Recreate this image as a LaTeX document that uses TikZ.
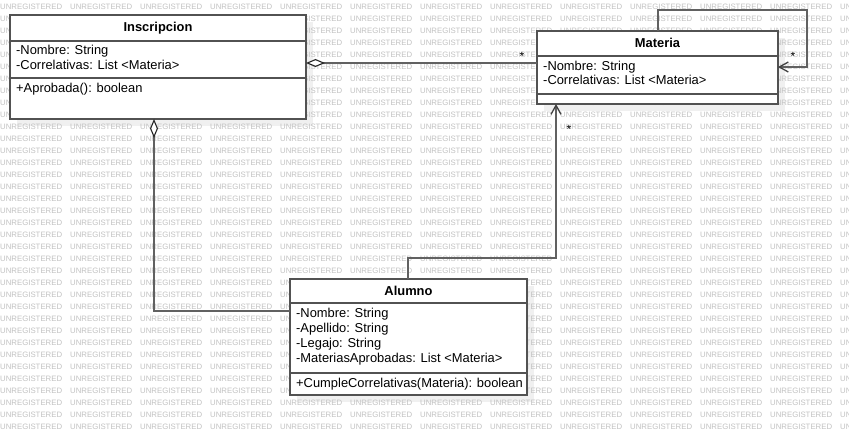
\documentclass[tikz,border=0pt]{standalone}
\usepackage{fontspec}
\setmainfont{Liberation Sans}
\usetikzlibrary{arrows.meta}
\pgfdeclarelayer{shadowlayer}
\pgfdeclarelayer{wmlayer}
\pgfsetlayers{shadowlayer,wmlayer,main}
\begin{document}
\begin{tikzpicture}[x=1pt,y=-1pt,
  box/.style={draw=black!68, line width=1.6pt, fill=white, rectangle, inner sep=0pt, outer sep=0pt},
  shade/.style={fill=black!6, draw=none},
  sepline/.style={draw=black!68, line width=1.6pt},
  conn/.style={draw=black!62, line width=1.3pt},
  txt/.style={anchor=base west, inner sep=0pt, font=\fontsize{12.9}{14}\selectfont},
  ttl/.style={anchor=base, inner sep=0pt, font=\fontsize{12.9}{14}\selectfont\bfseries},
  wm/.style={anchor=base west, inner sep=0pt, font=\fontsize{7.8}{8}\selectfont, text=black!24},
  mult/.style={anchor=base, inner sep=0pt, font=\fontsize{12}{12}\selectfont},
  agg/.style={{Diamond[color=black!85, fill=white, length=19pt, width=8pt, line width=1.1pt]}-},
  nav/.style={-{Straight Barb[color=black!75, length=9pt, width=10pt, line width=1.3pt]}},
]
\useasboundingbox (0,0) rectangle (849,435);

% boxes
\node[box, minimum width=296pt, minimum height=104pt] (insc) at (158,67) {};
\node[box, minimum width=241pt, minimum height=73pt] (mat) at (657.5,67.5) {};
\node[box, minimum width=237pt, minimum height=116pt] (alu) at (408.5,337) {};

% background and shadows
\begin{pgfonlayer}{shadowlayer}
  \fill[white] (0,0) rectangle (849,435);
  \foreach \b in {insc,mat,alu}{
    \fill[shade] ([shift={(7,7)}]\b.north west) rectangle ([shift={(7,7)}]\b.south east);
  }
\end{pgfonlayer}

% watermark
\begin{pgfonlayer}{wmlayer}
  \foreach \r in {0,...,35}{
    \foreach \c in {0,...,12}{
      \node[wm] (wm-\r-\c) at (\c*70, 10+\r*12) {UNREGISTERED};
    }
  }
\end{pgfonlayer}

% separators
\draw[sepline] (insc.west |- 0,41) -- (insc.east |- 0,41);
\draw[sepline] (insc.west |- 0,78) -- (insc.east |- 0,78);
\draw[sepline] (mat.west |- 0,56) -- (mat.east |- 0,56);
\draw[sepline] (mat.west |- 0,94) -- (mat.east |- 0,94);
\draw[sepline] (alu.west |- 0,303) -- (alu.east |- 0,303);
\draw[sepline] (alu.west |- 0,373) -- (alu.east |- 0,373);

% texts
\node[ttl] (insc-t) at (158,32) {Inscripcion};
\node[txt] (insc-a1) at (16,55) {-Nombre: String};
\node[txt] (insc-a2) at (16,69.5) {-Correlativas: List <Materia>};
\node[txt] (insc-m1) at (16,92.5) {+Aprobada(): boolean};

\node[ttl] (mat-t) at (657.5,48) {Materia};
\node[txt] (mat-a1) at (543,70.5) {-Nombre: String};
\node[txt] (mat-a2) at (543,85) {-Correlativas: List <Materia>};

\node[ttl] (alu-t) at (408.5,296) {Alumno};
\node[txt] (alu-a1) at (296,317.5) {-Nombre: String};
\node[txt] (alu-a2) at (296,332.5) {-Apellido: String};
\node[txt] (alu-a3) at (296,347.5) {-Legajo: String};
\node[txt] (alu-a4) at (296,362.5) {-MateriasAprobadas: List <Materia>};
\node[txt] (alu-m1) at (296,387.5) {+CumpleCorrelativas(Materia): boolean};

% connectors
\draw[conn, agg] (insc.east |- 0,63) -- (mat.west |- 0,63);
\draw[conn, nav] (mat.north -| 658,0) |- (807,10) |- (mat.east |- 0,67);
\draw[conn, nav] (alu.north -| 408,0) |- (556,258) -- (mat.south -| 556,0);
\draw[conn, agg] (insc.south -| 154,0) |- (alu.west |- 0,311);

% multiplicities
\node[mult] (mul1) at (522,61) {*};
\node[mult] (mul2) at (793,61) {*};
\node[mult] (mul3) at (569,134) {*};
\end{tikzpicture}
\end{document}
